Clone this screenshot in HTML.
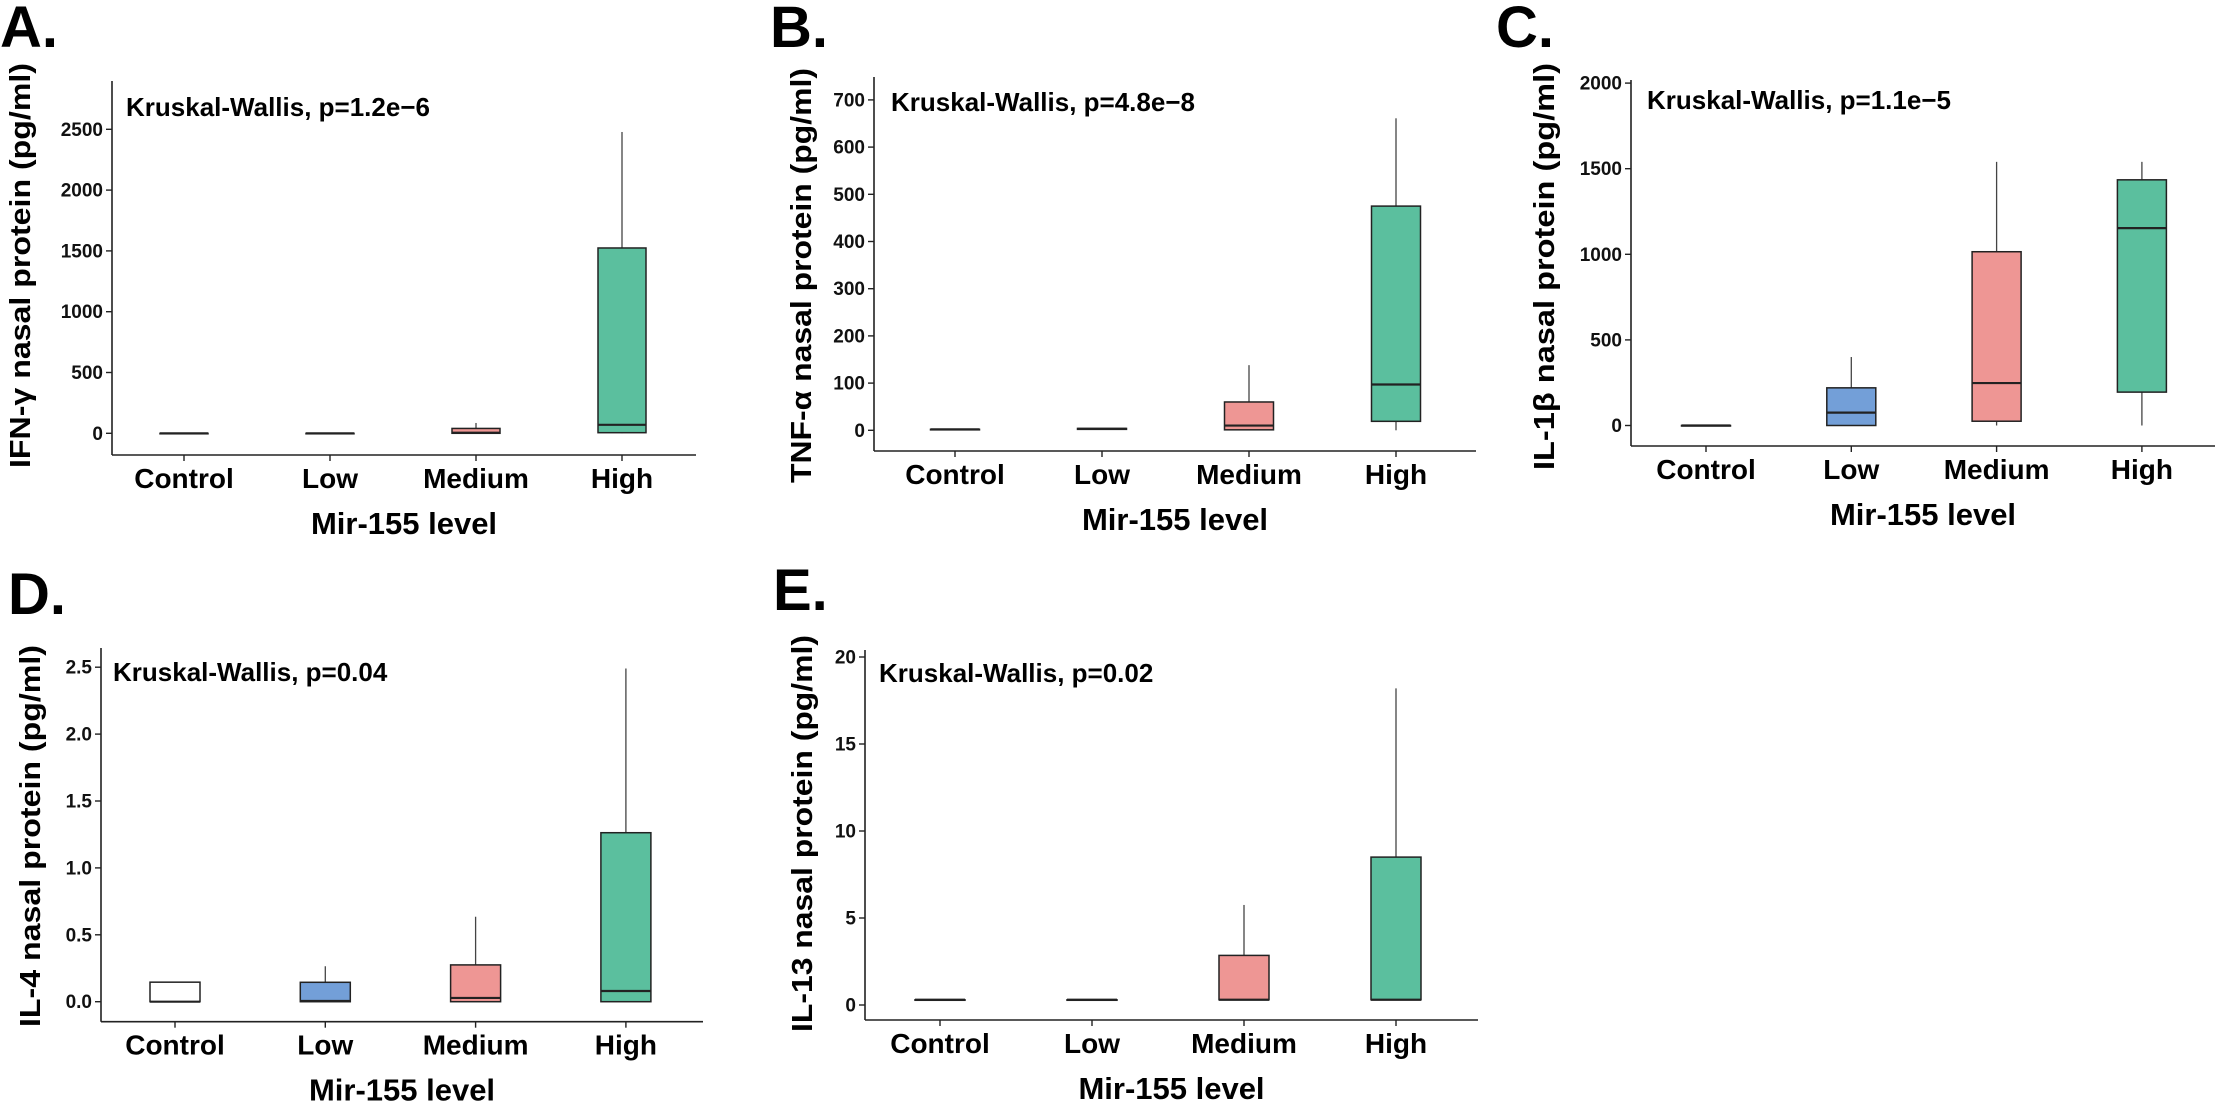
<!DOCTYPE html>
<html><head><meta charset="utf-8">
<style>
html,body{margin:0;padding:0;background:#fff;}
svg{display:block;font-family:"Liberation Sans",Arial,sans-serif;}
</style></head>
<body>
<svg id="fig" width="2220" height="1105" viewBox="0 0 2220 1105" xmlns="http://www.w3.org/2000/svg"></svg>
<script>
const categories = ["Control","Low","Medium","High"];
const boxColors = ["#ffffff","#739fd8","#ee9694","#5bbf9e"];

// Panel A: IFN-gamma
const aQ1 = [0, 0, 0, 5];
const aMed = [0, 0, 5, 70];
const aQ3 = [0, 0, 40, 1524];
const aWhiskLo = [0, 0, 0, 0];
const aWhiskHi = [0, 0, 85, 2478];
const aTicks = [0, 500, 1000, 1500, 2000, 2500];
const aTickLabels = ["0","500","1000","1500","2000","2500"];

// Panel B: TNF-alpha
const bQ1 = [2, 2, 1, 19];
const bMed = [2, 3, 10, 97];
const bQ3 = [2, 4, 60, 475];
const bWhiskLo = [2, 2, 0, 0];
const bWhiskHi = [3, 4, 138, 661];
const bTicks = [0, 100, 200, 300, 400, 500, 600, 700];
const bTickLabels = ["0","100","200","300","400","500","600","700"];

// Panel C: IL-1beta
const cQ1 = [0, 0, 25, 195];
const cMed = [0, 75, 248, 1153];
const cQ3 = [0, 220, 1015, 1435];
const cWhiskLo = [0, 0, 0, 0];
const cWhiskHi = [0, 400, 1540, 1540];
const cTicks = [0, 500, 1000, 1500, 2000];
const cTickLabels = ["0","500","1000","1500","2000"];

// Panel D: IL-4
const dQ1 = [0, 0, 0, 0];
const dMed = [0, 0.005, 0.028, 0.08];
const dQ3 = [0.146, 0.145, 0.275, 1.263];
const dWhiskLo = [0, 0, 0, 0];
const dWhiskHi = [0.146, 0.265, 0.635, 2.49];
const dTicks = [0, 0.5, 1, 1.5, 2, 2.5];
const dTickLabels = ["0.0","0.5","1.0","1.5","2.0","2.5"];

// Panel E: IL-13
const eQ1 = [0.3, 0.3, 0.3, 0.3];
const eMed = [0.3, 0.3, 0.3, 0.3];
const eQ3 = [0.3, 0.3, 2.85, 8.5];
const eWhiskLo = [0.3, 0.3, 0.3, 0.3];
const eWhiskHi = [0.3, 0.3, 5.75, 18.2];
const eTicks = [0, 5, 10, 15, 20];
const eTickLabels = ["0","5","10","15","20"];

const NS = "http://www.w3.org/2000/svg";
const svg = document.getElementById("fig");
function mk(tag, attrs, parent){
  const e = document.createElementNS(NS, tag);
  for (const k in attrs) e.setAttribute(k, attrs[k]);
  (parent||svg).appendChild(e);
  return e;
}

function panel(cfg, q1, med, q3, wlo, whi, ticks, tickLabels){
  const g = mk("g", {});
  
  
  const y = v => cfg.y0 - v * cfg.ppu;
  const x = i => cfg.x0 + i * cfg.step;

  // panel letter
  const L = mk("text", {x: cfg.lx, y: cfg.ly, "font-size": 58, "font-weight": "bold", fill: "#000"}, g);
  L.textContent = cfg.id.toUpperCase() + ".";
  
  

  // axes
  const ya = mk("line", {x1: cfg.ax, y1: cfg.top, x2: cfg.ax, y2: cfg.bottom, stroke: "#222", "stroke-width": 1.6}, g);
  
  
  const xa = mk("line", {x1: cfg.ax, y1: cfg.bottom, x2: cfg.right, y2: cfg.bottom, stroke: "#222", "stroke-width": 1.6}, g);
  
  

  // y ticks
  ticks.forEach((t, i) => {
    const ty = y(t);
    const tl = mk("line", {x1: cfg.ax - 6, y1: ty, x2: cfg.ax, y2: ty, stroke: "#222", "stroke-width": 1.4}, g);
    
    
    const tt = mk("text", {x: cfg.ax - 9, y: ty + 6.5, "font-size": 19, "font-weight": "bold", "text-anchor": "end", fill: "#111"}, g);
    tt.textContent = tickLabels[i];
    
    
  });

  // x ticks and labels
  categories.forEach((c, i) => {
    const cx = x(i);
    const tl = mk("line", {x1: cx, y1: cfg.bottom, x2: cx, y2: cfg.bottom + 6, stroke: "#222", "stroke-width": 1.4}, g);
    
    
    const tt = mk("text", {x: cx, y: cfg.bottom + 33, "font-size": 28, "font-weight": "bold", "text-anchor": "middle", fill: "#000"}, g);
    tt.textContent = c;
    
    
  });

  // boxes
  const hw = cfg.bw / 2;
  categories.forEach((c, i) => {
    const cx = x(i);
    const bg = mk("g", {}, g);
    
    
    if (whi[i] > q3[i]) {
      const w = mk("line", {x1: cx, y1: y(q3[i]), x2: cx, y2: y(whi[i]), stroke: "#444", "stroke-width": 1.3}, bg);
      
      
    }
    if (wlo[i] < q1[i]) {
      const w = mk("line", {x1: cx, y1: y(q1[i]), x2: cx, y2: y(wlo[i]), stroke: "#444", "stroke-width": 1.3}, bg);
      
      
    }
    const top = y(q3[i]), bot = y(q1[i]);
    const r = mk("rect", {x: cx - hw, y: top, width: cfg.bw, height: Math.max(bot - top, 0.5), fill: boxColors[i], stroke: "#222", "stroke-width": 1.5}, bg);
    
    
    const m = mk("line", {x1: cx - hw, y1: y(med[i]), x2: cx + hw, y2: y(med[i]), stroke: "#222", "stroke-width": 2.2}, bg);
    
    
  });

  // annotation
  const k = mk("text", {x: cfg.kx, y: cfg.ky + 9, "font-size": 26, "font-weight": "bold", fill: "#000"}, g);
  k.textContent = cfg.kw;
  
  

  // x title
  const xt = mk("text", {x: (cfg.ax + cfg.right) / 2, y: cfg.bottom + 79, "font-size": 31, "font-weight": "bold", "text-anchor": "middle", fill: "#000"}, g);
  xt.textContent = "Mir-155 level";
  
  

  // y title
  const cy = (cfg.ytTop + cfg.ytBot) / 2;
  const yt = mk("text", {x: 0, y: 0, "font-size": 29, "font-weight": "bold", "text-anchor": "middle",
    textLength: cfg.ytBot - cfg.ytTop, lengthAdjust: "spacingAndGlyphs", fill: "#000",
    transform: "translate(" + (cfg.ytx + 10) + "," + cy + ") rotate(-90)"}, g);
  yt.textContent = cfg.ytitle;
  
  
}

panel({id:"a", lx:0, ly:47, ax:112, top:81, bottom:455, right:696, y0:433.3, ppu:60.8/500, x0:184, step:146, bw:48,
  kx:126, ky:107, kw:"Kruskal-Wallis, p=1.2e\u22126", ytx:20, ytTop:63, ytBot:468, ytitle:"IFN-\u03b3 nasal protein (pg/ml)"},
  aQ1, aMed, aQ3, aWhiskLo, aWhiskHi, aTicks, aTickLabels);

panel({id:"b", lx:770, ly:47, ax:874, top:77, bottom:451, right:1476, y0:430.3, ppu:47.2/100, x0:955, step:147, bw:49,
  kx:891, ky:102, kw:"Kruskal-Wallis, p=4.8e\u22128", ytx:801, ytTop:68, ytBot:483, ytitle:"TNF-\u03b1 nasal protein (pg/ml)"},
  bQ1, bMed, bQ3, bWhiskLo, bWhiskHi, bTicks, bTickLabels);

panel({id:"c", lx:1496, ly:47, ax:1631, top:80, bottom:446, right:2215, y0:425.5, ppu:85.6/500, x0:1706, step:145.3, bw:49,
  kx:1647, ky:100, kw:"Kruskal-Wallis, p=1.1e\u22125", ytx:1544, ytTop:63, ytBot:470, ytitle:"IL-1\u03b2 nasal protein (pg/ml)"},
  cQ1, cMed, cQ3, cWhiskLo, cWhiskHi, cTicks, cTickLabels);

panel({id:"d", lx:8, ly:614, ax:101, top:648, bottom:1021.7, right:703, y0:1001.7, ppu:66.9/0.5, x0:175, step:150.3, bw:50,
  kx:113, ky:672, kw:"Kruskal-Wallis, p=0.04", ytx:30, ytTop:645, ytBot:1027, ytitle:"IL-4 nasal protein (pg/ml)"},
  dQ1, dMed, dQ3, dWhiskLo, dWhiskHi, dTicks, dTickLabels);

panel({id:"e", lx:773, ly:610, ax:865, top:650, bottom:1020, right:1478, y0:1005, ppu:87/5, x0:940, step:152, bw:50,
  kx:879, ky:673, kw:"Kruskal-Wallis, p=0.02", ytx:802, ytTop:635, ytBot:1032, ytitle:"IL-13 nasal protein (pg/ml)"},
  eQ1, eMed, eQ3, eWhiskLo, eWhiskHi, eTicks, eTickLabels);
</script>
</body></html>
